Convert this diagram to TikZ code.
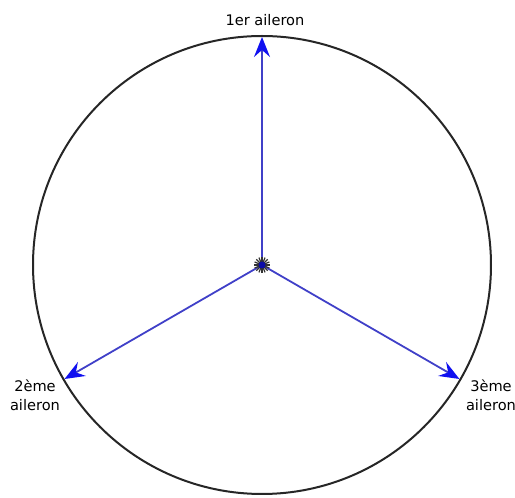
\documentclass[tikz,border=0pt]{standalone}
\usepackage{fontspec}
\setmainfont{DejaVu Sans}
\usetikzlibrary{arrows.meta,positioning,calc}
\definecolor{vane}{HTML}{4040C8}
\definecolor{vanetip}{HTML}{1010F0}
\begin{document}
\begin{tikzpicture}[x=0.5pt,y=0.5pt,
  lbl/.style={font=\fontsize{7.3}{9.5}\selectfont,align=center,inner sep=0pt},
  vanearrow/.style={vane,line width=0.9pt,-{Stealth[length=10pt,width=8pt,inset=3.5pt,fill=vanetip,color=vanetip]}}]
  \useasboundingbox (0,0) rectangle (515,498);
  \coordinate (hub) at (262,233);
  \draw[black!85,line width=1pt] (hub) circle (229);
  \coordinate (t1) at ($(hub)+(90:228)$);
  \coordinate (t2) at ($(hub)+(210:228)$);
  \coordinate (t3) at ($(hub)+(330:228)$);
  \draw[vanearrow] (hub) -- (t1);
  \draw[vanearrow] (hub) -- (t2);
  \draw[vanearrow] (hub) -- (t3);
  \foreach \a in {0,22.5,...,337.5}
    \draw[black!80,line width=0.6pt] (hub) -- ++(\a:8);
  \fill[vanetip!70!black] (hub) circle (3.5);
  \node[lbl] (l1) at (265,478) {1er aileron};
  \node[lbl] (l2) at (35,103) {2ème\\aileron};
  \node[lbl] (l3) at (491,103) {3ème\\aileron};
\end{tikzpicture}
\end{document}
